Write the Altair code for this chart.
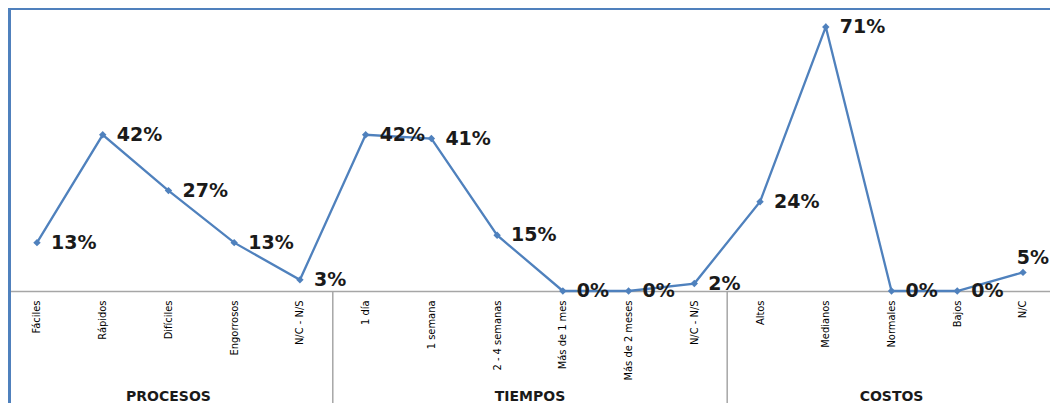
import json
import altair as alt
import pandas as pd

categories = ["Fáciles", "Rápidos", "Difíciles", "Engorrosos", "N/C - N/S",
              "1 día", "1 semana", "2 - 4 semanas", "Más de 1 mes", "Más de 2 meses", "N/C - N/S",
              "Altos", "Medianos", "Normales", "Bajos", "N/C"]
values = [13, 42, 27, 13, 3, 42, 41, 15, 0, 0, 2, 24, 71, 0, 0, 5]
groups = ["PROCESOS", "TIEMPOS", "COSTOS"]
group_sizes = [5, 6, 5]

n = len(categories)
df = pd.DataFrame({
    "i": list(range(n)),
    "cat": categories,
    "v": values,
    "label": [f"{v}%" for v in values],
})
df_main = df.iloc[:-1]
df_last = df.iloc[-1:]

# group centres and separators derived from group sizes
starts, acc = [], 0
for s in group_sizes:
    starts.append(acc)
    acc += s
gdf = pd.DataFrame({
    "g": groups,
    "c": [st + (s - 1) / 2 for st, s in zip(starts, group_sizes)],
})
sep = pd.DataFrame({"b": [st - 0.5 for st in starts[1:]]})

BLUE = "#4F81BD"
GRAY = "#a6a6a6"
label_expr = json.dumps(categories, ensure_ascii=False) + "[datum.value]"

W = 1042
xscale = alt.Scale(domain=[-0.441, 15.411], nice=False, zero=False)
yscale = alt.Scale(domain=[0, 76.1], nice=False, zero=True)

xaxis = alt.Axis(values=list(range(n)), labelExpr=label_expr,
                 labelAngle=-90, labelFont="DejaVu Sans Condensed, Liberation Sans Narrow, sans-serif",
                 labelFontSize=11, labelColor="#000000", labelPadding=9,
                 ticks=False, grid=False, domainColor=GRAY, domainWidth=1.5, title=None,
                 labelOverlap=False, labelBound=False, labelFlush=False)

base = alt.Chart(df)

line = base.mark_line(color=BLUE, strokeWidth=2.3).encode(
    x=alt.X("i:Q", scale=xscale, axis=xaxis),
    y=alt.Y("v:Q", scale=yscale, axis=None),
)
pts = base.mark_point(shape="diamond", filled=True, color=BLUE, size=55, opacity=1).encode(
    x=alt.X("i:Q", scale=xscale),
    y=alt.Y("v:Q", scale=yscale),
)
txt = alt.Chart(df_main).mark_text(align="left", baseline="middle", dx=14, font="DejaVu Sans",
                                   fontWeight="bold", fontSize=19, color="#1a1a1a").encode(
    x=alt.X("i:Q", scale=xscale),
    y=alt.Y("v:Q", scale=yscale),
    text="label:N",
)
txt_last = alt.Chart(df_last).mark_text(align="right", baseline="middle", dy=-14, font="DejaVu Sans",
                                        fontWeight="bold", fontSize=19, color="#1a1a1a").encode(
    x=alt.value(W - 1),
    y=alt.Y("v:Q", scale=yscale),
    text="label:N",
)
seps = alt.Chart(sep).mark_rule(color=GRAY, strokeWidth=1.5).encode(
    x=alt.X("b:Q", scale=xscale),
    y=alt.value(283),
    y2=alt.value(400),
)
gl = alt.Chart(gdf).mark_text(font="DejaVu Sans", fontWeight="bold", fontSize=14,
                              color="#1a1a1a", baseline="middle").encode(
    x=alt.X("c:Q", scale=xscale),
    y=alt.value(389),
    text="g:N",
)
frame_top = alt.Chart(df).mark_rule(color=BLUE, strokeWidth=2.5).encode(
    x=alt.value(0), x2=alt.value(W), y=alt.value(0))
frame_left = alt.Chart(df).mark_rule(color=BLUE, strokeWidth=2.5).encode(
    x=alt.value(1), y=alt.value(0), y2=alt.value(395))

chart = alt.layer(line, pts, txt, txt_last, seps, gl, frame_top, frame_left).properties(
    width=W, height=283,
    autosize=alt.AutoSizeParams(type="none"),
    padding={"left": 0, "top": 0, "right": 0, "bottom": 112},
).configure_view(stroke=None).configure(background="#ffffff")

chart.save("out.html", embed_options={"renderer": "svg", "actions": False})
